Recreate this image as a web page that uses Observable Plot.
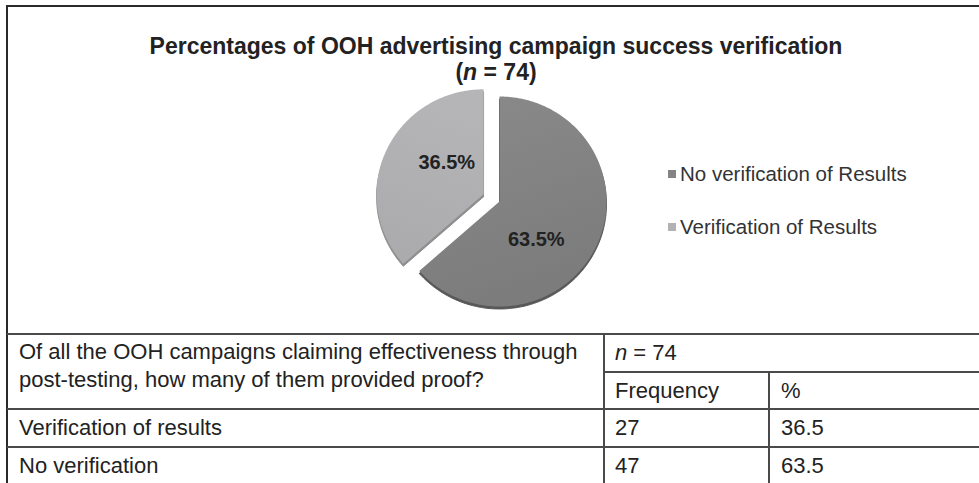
<!DOCTYPE html>
<html><head><meta charset="utf-8">
<script src="https://cdn.jsdelivr.net/npm/d3@7"></script>
<script src="https://cdn.jsdelivr.net/npm/@observablehq/plot@0.6"></script>
<style>
body{margin:0;background:#fff;}
#wrap{position:relative;width:979px;height:483px;overflow:hidden;background:#fff;font-family:"Liberation Sans",Arial,sans-serif;color:#222;}
.abs{position:absolute;white-space:nowrap;}
.ln{position:absolute;background:#4a4a4a;}
</style></head><body><div id="wrap"></div>
<script>
// ---- data ----
const categories = ["No verification of Results", "Verification of Results"];
const percents = [63.5, 36.5];
const sliceLabels = ["63.5%", "36.5%"];
const colors = ["#848484", "#b2b2b4"];
const shadowColors = ["#585858", "#8e8e8e"];
const titleText = "Percentages of OOH advertising campaign success verification";
const nValue = 74;
const question = ["Of all the OOH campaigns claiming effectiveness through", "post-testing, how many of them provided proof?"];
const tableHeaders = ["Frequency", "%"];
const tableRows = ["Verification of results", "No verification"];
const frequencies = [27, 47];
const tablePercents = ["36.5", "63.5"];

// ---- layout ----
const W = 979, H = 483, PH = 333;
const cx = 499, cy = 201, RX = 107, RY = 105, EXPLODE = 17.5;
const wrap = document.getElementById("wrap");

function el(tag, cls, style, html) {
  const e = document.createElement(tag);
  if (cls) e.className = cls;
  Object.assign(e.style, style);
  if (html != null) e.innerHTML = html;
  wrap.appendChild(e);
  return e;
}

// pie geometry from data
const arcs = d3.pie().sort(null).value(d => d)(percents);
const pts = [];
const labels = [];
arcs.forEach((a, i) => {
  const mid = (a.startAngle + a.endAngle) / 2;
  const ex = i === 1 ? EXPLODE : 0;
  const ox = Math.sin(mid) * ex / RX, oy = Math.cos(mid) * ex / RY;
  pts.push({k: i, x: ox, y: oy});
  const n = Math.ceil((a.endAngle - a.startAngle) / 0.01);
  for (let j = 0; j <= n; j++) {
    const t = a.startAngle + (a.endAngle - a.startAngle) * j / n;
    pts.push({k: i, x: ox + Math.sin(t), y: oy + Math.cos(t)});
  }
  pts.push({k: i, x: ox, y: oy});
  const la = mid + 20 * Math.PI / 180, lr = 0.48;
  labels.push({x: ox + Math.sin(la) * lr, y: oy + Math.cos(la) * lr, text: sliceLabels[i]});
});

const marks = [];
arcs.forEach((a, i) => {
  const d = pts.filter(p => p.k === i);
  marks.push(Plot.line(d, {x: "x", y: "y", fill: shadowColors[i], stroke: shadowColors[i], strokeWidth: 1, dy: 2.5}));
});
arcs.forEach((a, i) => {
  const d = pts.filter(p => p.k === i);
  marks.push(Plot.line(d, {x: "x", y: "y", fill: `url(#g${i})`, stroke: "none"}));
});
marks.push(Plot.text(labels, {x: "x", y: "y", text: "text", dy: 3, fontSize: 20, fontWeight: "bold", fill: "#222", fontFamily: "Liberation Sans, Arial, sans-serif"}));

const svg = Plot.plot({
  width: W, height: PH, margin: 0,
  x: {domain: [-cx / RX, (W - cx) / RX], range: [0, W], axis: null},
  y: {domain: [-(PH - cy) / RY, cy / RY], range: [PH, 0], axis: null},
  marks
});
d3.select(svg).insert("defs", ":first-child").html(`
  <linearGradient id="g0" x1="0" y1="0" x2="0.3" y2="1">
    <stop offset="0" stop-color="#8a8a8a"/><stop offset="1" stop-color="#7c7c7c"/></linearGradient>
  <linearGradient id="g1" x1="0.2" y1="0" x2="0" y2="1">
    <stop offset="0" stop-color="#b5b5b7"/><stop offset="1" stop-color="#aaaaac"/></linearGradient>`);
svg.style.position = "absolute";
svg.style.left = "0px";
svg.style.top = "0px";
svg.style.background = "transparent";
wrap.appendChild(svg);

// title
el("div", "abs", {left: "96px", width: "800px", top: "33px", textAlign: "center", fontSize: "23px", fontWeight: "bold", lineHeight: "26px", color: "#222"},
  `${titleText}<br>(<i>n</i> = ${nValue})`);

// legend
const legendY = [174, 227];
categories.forEach((c, i) => {
  el("div", "abs", {left: "668px", top: (legendY[i] - 4) + "px", width: "8px", height: "8px", background: colors[i]});
  el("div", "abs", {left: "680px", top: (legendY[i] - 12) + "px", fontSize: "20.5px", lineHeight: "24px", color: "#333"}, c);
});

// frame & table lines
function hline(x1, x2, y, w = 2, c = "#4a4a4a") { el("div", "ln", {left: x1 + "px", top: (y - w / 2) + "px", width: (x2 - x1) + "px", height: w + "px", background: c}); }
function vline(x, y1, y2, w = 2, c = "#4a4a4a") { el("div", "ln", {left: (x - w / 2) + "px", top: y1 + "px", width: w + "px", height: (y2 - y1) + "px", background: c}); }
hline(6, W, 6, 2.5, "#2a2a2a");
vline(7, 5, H, 2.5, "#2a2a2a");
const c1 = 604, c2 = 769;
const rY = [334, 372, 409, 447, 485];
hline(7, W, rY[0]);
hline(c1, W, rY[1]);
hline(7, W, rY[2]);
hline(7, W, rY[3]);
vline(c1, rY[0], H);
vline(c2, rY[1], H);

const tf = {fontSize: "22px", color: "#222"};
function cellText(x, y1, y2, html) {
  el("div", "abs", Object.assign({left: x + "px", top: y1 + "px", height: (y2 - y1) + "px", lineHeight: (y2 - y1) + "px"}, tf), html);
}
// question cell (two lines)
el("div", "abs", Object.assign({left: "19px", top: "338px", lineHeight: "28px"}, tf), question.join("<br>"));
cellText(c1 + 11, rY[0], rY[1], `<i>n</i> = ${nValue}`);
cellText(c1 + 11, rY[1], rY[2], tableHeaders[0]);
cellText(c2 + 12, rY[1], rY[2], tableHeaders[1]);
tableRows.forEach((r, i) => {
  cellText(19, rY[2 + i], rY[3 + i], r);
  cellText(c1 + 11, rY[2 + i], rY[3 + i], String(frequencies[i]));
  cellText(c2 + 12, rY[2 + i], rY[3 + i], tablePercents[i]);
});
</script></body></html>
